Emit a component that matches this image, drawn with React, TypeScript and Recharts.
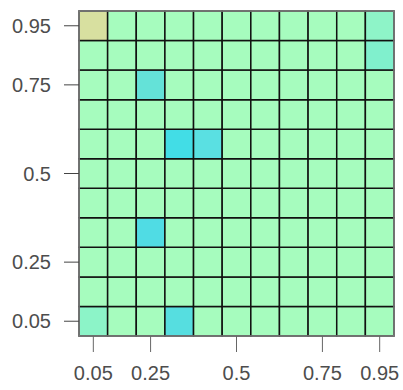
import React from 'react'
import { ScatterChart, Scatter, XAxis, YAxis, ReferenceArea } from 'recharts'

// cell centres, shared by both axes
const CENTRES = [0.05, 0.14, 0.23, 0.32, 0.41, 0.5, 0.59, 0.68, 0.77, 0.86, 0.95]
const HALF = 0.045
// ticks sit on cell centres but carry rounded labels
const TICK_POS = [0.05, 0.23, 0.5, 0.77, 0.95]
const TICK_LABELS = ['0.05', '0.25', '0.5', '0.75', '0.95']

const BASE_FILL = '#a6fcbe'

// cells that differ from the base colour
const HOT_X = [0.05, 0.95, 0.95, 0.23, 0.32, 0.41, 0.23, 0.05, 0.32]
const HOT_Y = [0.95, 0.95, 0.86, 0.77, 0.59, 0.59, 0.32, 0.05, 0.05]
const HOT_FILL = ['#d8e0a0', '#8ef4c8', '#80f0cd', '#64e2d8', '#42dde6', '#5ae0e2', '#50dce4', '#8cf4c8', '#56dee0']

const fillFor = (x: number, y: number) => {
  const i = HOT_X.findIndex((hx, k) => hx === x && HOT_Y[k] === y)
  return i >= 0 ? HOT_FILL[i] : BASE_FILL
}

const tickLabel = (v: number) => {
  const i = TICK_POS.indexOf(v)
  return i >= 0 ? TICK_LABELS[i] : String(v)
}

const centreData = CENTRES.flatMap(x => CENTRES.map(y => ({ x, y })))

const tickStyle = { fontFamily: "'Liberation Sans', Arial, sans-serif", fontSize: 20, fill: '#4d4d4d' }

export default function App() {
  return (
    <div style={{ position: 'absolute', left: 0, top: 0, background: '#fff' }}>
      <ScatterChart width={403} height={390} margin={{ top: 11, right: 9, bottom: 0, left: 0 }}>
        <XAxis
          type="number"
          dataKey="x"
          domain={[0.005, 0.995]}
          ticks={TICK_POS}
          tickFormatter={tickLabel}
          tick={tickStyle}
          tickSize={16}
          tickMargin={14}
          tickLine={{ stroke: '#666' }}
          axisLine={false}
          height={54}
          allowDataOverflow
        />
        <YAxis
          type="number"
          dataKey="y"
          domain={[0.005, 0.995]}
          ticks={TICK_POS}
          tickFormatter={tickLabel}
          tick={tickStyle}
          tickSize={15}
          tickMargin={13}
          tickLine={{ stroke: '#444' }}
          axisLine={false}
          width={79}
          allowDataOverflow
        />
        {centreData.map(c => (
          <ReferenceArea
            key={`${c.x}-${c.y}`}
            x1={c.x - HALF}
            x2={c.x + HALF}
            y1={c.y - HALF}
            y2={c.y + HALF}
            fill={fillFor(c.x, c.y)}
            fillOpacity={1}
            stroke="#111"
            strokeWidth={1.5}
          />
        ))}
        <ReferenceArea
          x1={0.005}
          x2={0.995}
          y1={0.005}
          y2={0.995}
          fill="none"
          stroke="#808080"
          strokeWidth={1.5}
        />
        <Scatter data={centreData} fill="none" shape={() => <g />} isAnimationActive={false} />
      </ScatterChart>
    </div>
  )
}
